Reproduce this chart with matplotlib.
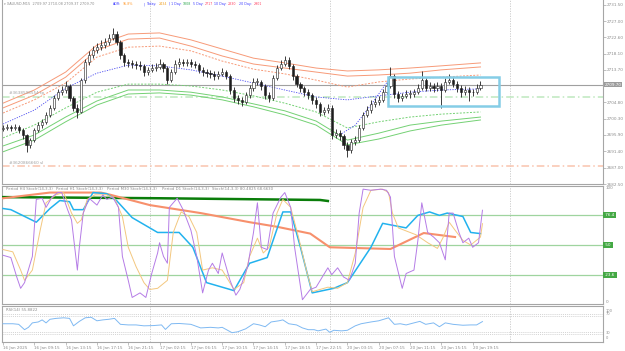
import matplotlib
matplotlib.use('Agg')
import matplotlib.pyplot as plt
from matplotlib.patches import Rectangle

# --- XAUUSD M15 chart, candles grouped to 30 min, 16 Jan 05:15 -> 20 Jan ~20:45 ---
first_open = 2697.5
close = [2697.8, 2698.1, 2697.8, 2698.1, 2697.3, 2695.9, 2693.2, 2694.5, 2697.3, 2698.6,
         2699.5, 2701.4, 2703.3, 2706.0, 2707.6, 2708.2, 2709.3, 2706.0, 2703.3, 2702.2,
         2710.9, 2715.8, 2717.8, 2719.1, 2719.9, 2720.5, 2721.3, 2722.4, 2723.5, 2721.3,
         2717.8, 2715.8, 2715.6, 2715.3, 2715.0, 2714.8, 2713.1, 2713.7, 2714.2, 2714.5,
         2715.3, 2714.2, 2710.9, 2713.1, 2715.3, 2715.8, 2715.6, 2715.8, 2715.3, 2715.0,
         2713.7, 2713.1, 2712.8, 2712.6, 2712.0, 2712.6, 2713.1, 2712.0, 2708.2, 2706.0,
         2705.5, 2704.9, 2706.8, 2708.7, 2710.4, 2710.4, 2709.3, 2706.8, 2706.0, 2711.5,
         2714.2, 2715.3, 2716.4, 2714.8, 2712.0, 2709.8, 2708.7, 2707.6, 2706.8, 2705.5,
         2704.4, 2702.2, 2702.7, 2703.3, 2695.9, 2696.4, 2695.6, 2693.2, 2691.8, 2694.0,
         2694.5, 2697.8, 2701.4, 2702.7, 2704.4, 2704.9, 2705.5, 2707.6, 2709.3, 2712.0,
         2707.1, 2706.0, 2706.5, 2707.1, 2707.1, 2707.6, 2708.7, 2710.9, 2708.7, 2709.3,
         2708.7, 2709.3, 2708.2, 2710.4, 2710.9, 2709.8, 2708.7, 2707.6, 2708.2, 2707.6,
         2707.6, 2708.7, 2709.7]
high = [2698.6, 2698.9, 2698.7, 2699.0, 2698.6, 2697.8, 2696.3, 2695.2, 2697.9, 2699.4,
        2700.4, 2702.3, 2704.2, 2706.9, 2708.5, 2709.4, 2710.6, 2709.8, 2706.6, 2704.5,
        2711.6, 2716.7, 2718.9, 2720.2, 2721.0, 2721.8, 2722.5, 2723.6, 2725.1, 2724.4,
        2721.9, 2718.4, 2716.8, 2716.5, 2716.2, 2716.0, 2715.3, 2714.6, 2715.2, 2715.6,
        2716.6, 2715.9, 2714.7, 2713.9, 2716.3, 2716.9, 2716.7, 2716.8, 2716.6, 2716.1,
        2715.6, 2714.5, 2714.0, 2713.7, 2713.4, 2713.5, 2714.1, 2713.8, 2712.6, 2708.9,
        2706.9, 2706.3, 2707.6, 2709.6, 2711.4, 2711.5, 2711.0, 2709.9, 2707.6, 2712.3,
        2715.1, 2716.4, 2717.5, 2717.1, 2715.4, 2712.7, 2710.5, 2709.4, 2708.4, 2707.5,
        2706.2, 2705.0, 2703.6, 2704.4, 2704.0, 2697.5, 2697.2, 2696.1, 2694.0, 2694.9,
        2695.6, 2698.5, 2702.2, 2703.8, 2705.4, 2706.0, 2706.6, 2708.6, 2710.5, 2714.6,
        2712.6, 2707.8, 2707.5, 2708.1, 2708.2, 2708.6, 2709.8, 2713.3, 2711.6, 2710.4,
        2710.1, 2710.3, 2710.0, 2711.6, 2712.6, 2711.8, 2710.6, 2709.5, 2709.4, 2709.0,
        2708.6, 2709.8, 2710.6]
low = [2696.9, 2697.2, 2697.0, 2697.3, 2696.5, 2694.8, 2691.3, 2692.4, 2694.0, 2696.8,
       2697.9, 2699.0, 2700.8, 2702.8, 2705.4, 2706.9, 2707.5, 2705.2, 2702.4, 2700.6,
       2701.8, 2710.2, 2715.0, 2716.9, 2718.2, 2719.0, 2719.6, 2720.5, 2721.8, 2720.6,
       2716.6, 2714.7, 2714.6, 2714.3, 2714.0, 2713.6, 2712.0, 2712.3, 2713.0, 2713.4,
       2713.9, 2713.2, 2709.9, 2710.3, 2712.6, 2714.6, 2714.7, 2714.8, 2714.4, 2714.1,
       2712.8, 2712.1, 2711.8, 2711.6, 2711.0, 2711.2, 2711.9, 2711.1, 2707.2, 2705.0,
       2704.5, 2703.9, 2704.3, 2706.1, 2708.0, 2709.5, 2708.3, 2705.8, 2704.9, 2705.4,
       2710.8, 2713.6, 2714.7, 2713.9, 2711.0, 2708.9, 2707.7, 2706.6, 2705.8, 2704.5,
       2703.4, 2701.1, 2701.4, 2702.0, 2694.9, 2695.0, 2694.6, 2692.0, 2690.0, 2691.0,
       2693.2, 2694.0, 2697.2, 2700.8, 2702.0, 2703.6, 2704.2, 2705.0, 2707.0, 2708.8,
       2706.0, 2705.0, 2705.3, 2705.9, 2706.1, 2706.4, 2707.0, 2708.1, 2707.8, 2707.9,
       2707.7, 2707.8, 2703.3, 2707.6, 2709.8, 2708.9, 2707.6, 2706.4, 2706.8, 2705.2,
       2706.6, 2707.0, 2708.2]

# envelope bands around the moving average, read every 8 bars
band_x = [0, 8, 16, 24, 32, 40, 48, 56, 64, 72, 80, 88, 96, 104, 112, 122]
upper1 = [2704.6, 2708.2, 2713.1, 2720.5, 2723.5, 2723.8, 2721.9, 2719.4, 2716.9, 2715.6,
          2714.2, 2713.4, 2713.7, 2714.2, 2714.8, 2715.6]
upper2 = [2703.3, 2706.8, 2711.7, 2719.1, 2722.1, 2722.4, 2720.2, 2717.5, 2715.3, 2714.2,
          2713.1, 2712.0, 2712.3, 2712.8, 2713.7, 2714.5]
upper3 = [2701.9, 2705.5, 2710.1, 2717.2, 2719.9, 2720.2, 2718.9, 2716.1, 2713.9, 2712.6,
          2710.9, 2709.0, 2710.4, 2711.2, 2711.7, 2712.3]
ma_mid = [2698.9, 2702.7, 2708.7, 2712.8, 2715.0, 2714.8, 2713.7, 2712.0, 2710.1, 2708.2,
          2706.3, 2705.5, 2706.6, 2707.6, 2708.2, 2708.5]
lower1 = [2695.1, 2698.6, 2703.3, 2707.6, 2709.8, 2709.8, 2709.3, 2708.2, 2706.6, 2704.6,
          2702.2, 2697.8, 2699.5, 2700.8, 2701.6, 2702.2]
lower2 = [2692.9, 2695.9, 2700.8, 2705.2, 2708.2, 2708.2, 2707.6, 2706.3, 2704.4, 2702.5,
          2699.7, 2694.5, 2696.4, 2698.6, 2699.7, 2700.8]
lower3 = [2691.3, 2694.5, 2699.5, 2704.1, 2707.1, 2707.4, 2706.8, 2705.5, 2703.6, 2701.4,
          2698.6, 2693.2, 2694.8, 2697.0, 2698.6, 2700.0]
fast_ma_x = [86, 90, 94, 98.5]
fast_ma = [2695.9, 2698.6, 2704.1, 2710.9]

bid = 2709.70
tp_level = 2706.3
sl_level = 2687.4
box_x0, box_x1 = 98.4, 126.7
box_lo, box_hi = 2703.8, 2711.7

price_ticks = [2731.50, 2727.00, 2722.60, 2718.10, 2713.70, 2709.20, 2704.80,
               2700.30, 2695.90, 2691.40, 2687.00, 2682.50]

# stochastics (M15 main/signal, H1, H4, D1)
k_x = [0, 2, 3.5, 4.5, 5.5, 7.5, 8.5, 10, 11, 12.5, 14, 15, 16.5, 17.5, 19, 19.5, 20.5, 22,
       24, 25.5, 26.5, 28, 29.5, 30.5, 32, 33, 35, 36.5, 38, 39.5, 40, 41, 42, 42.5, 44.5,
       46, 48, 49.5, 51, 52.5, 53.5, 55, 56, 58, 59.5, 60.5, 62.5, 64, 65, 66, 67.5, 69,
       71, 72, 73.5, 74.5, 76.5, 78.5, 80, 83, 84, 85.5, 87, 88.5, 90, 91, 92, 94, 96.5,
       98, 99, 100, 102, 103, 105, 106, 107, 108.5, 110, 111.5, 113, 114, 115, 116.5,
       117.5, 119, 120, 121.5, 122.5]
k_val = [41, 39, 22, 12, 17, 40, 90, 91, 83, 92, 96, 96, 81, 72, 28, 48, 78, 91, 85, 94,
         90, 92, 83, 40, 19, 4, 8, 4, 25, 43, 52, 40, 34, 83, 91, 81, 63, 40, 8, 28, 34,
         25, 43, 19, 6, 11, 31, 61, 87, 48, 46, 78, 92, 96, 83, 48, 2, 11, 13, 30, 24, 30,
         22, 19, 34, 78, 99, 98, 99, 98, 92, 40, 12, 25, 28, 54, 87, 61, 57, 52, 37, 78,
         78, 61, 52, 56, 48, 52, 80.5]
d_x = [0, 2.5, 4.5, 5.5, 7.5, 9.5, 11, 13.5, 15.5, 17.5, 19, 20, 21.5, 23.5, 26.5, 28.5,
       30.5, 32, 34, 36, 37.5, 39.5, 42, 43.5, 45.5, 47.5, 49.5, 51, 53.5, 56, 59, 61.5,
       63, 65, 66.5, 68, 70, 71.5, 73.5, 75.5, 77.5, 79, 83, 85.5, 88, 90, 92, 94, 97,
       98.5, 99.5, 101, 105.5, 108.5, 111, 112.5, 114, 115.5, 117.5, 119.5, 122, 122.5]
d_val = [46, 44, 28, 19, 28, 63, 87, 94, 96, 78, 69, 72, 90, 94, 94, 91, 75, 48, 31, 17,
         11, 12, 19, 61, 79, 75, 61, 28, 30, 28, 11, 17, 40, 56, 43, 48, 78, 90, 83, 57,
         28, 9, 13, 12, 17, 43, 83, 98, 99, 96, 78, 65, 59, 52, 47, 57, 70, 63, 54, 50,
         57, 68.7]
h1_x = [0, 2, 8.5, 12, 14.5, 17, 18, 20.5, 23, 26.5, 29, 33, 39.5, 45, 48.5, 52, 59, 63,
        67.5, 71.5, 73.5, 76, 79, 84.5, 88, 94, 97, 101.5, 103, 106, 109, 111.5, 113.5,
        117.5, 119.5, 122]
h1_val = [82, 81, 70, 82, 89, 88, 81, 81, 96, 95, 89, 74, 61, 61, 48, 17, 10, 34, 39, 79,
          79, 48, 8, 12, 17, 48, 69, 66, 65, 76, 79, 76, 78, 75, 61, 60]
h4_x = [0, 12, 25, 27.5, 37.5, 50.5, 63, 70, 78.5, 83.5, 99, 107.5, 115.5]
h4_val = [91, 96, 96, 94, 85, 78, 70, 66, 60, 48, 46.5, 60.5, 57]
d1_x = [0, 40, 81, 83]
d1_val = [92, 91, 89.5, 88.6]
stoch_levels = [76.4, 50, 23.6]

rsi_x = [0, 2.5, 4, 5.5, 6.5, 7.5, 9, 10, 11, 12, 13.5, 15.5, 17, 18, 19.5, 21, 22.5, 24,
         25.5, 27, 28.5, 30, 32, 34, 36, 38.5, 40.5, 41.5, 43, 45, 48, 50.5, 53, 55, 56,
         58.5, 60, 62, 64, 65.5, 67, 68.5, 70.5, 71.5, 73, 75, 76.5, 78, 79.5, 80.5, 82.5,
         83.5, 84.5, 86.5, 88, 90, 91.5, 94, 96, 98.5, 100, 101.5, 103, 105, 106.5, 108,
         110, 111.5, 113, 115, 117.5, 119.5, 121, 122.5]
rsi_val = [50.4, 50.4, 48.9, 35.3, 41.3, 52.6, 54.9, 60.2, 52.6, 61.7, 64.0, 65.5, 64.0,
           45.1, 56.4, 65.5, 67.0, 57.9, 60.2, 61.7, 64.0, 48.9, 47.4, 47.4, 45.1, 45.8,
           47.4, 36.0, 50.4, 51.1, 48.9, 39.8, 41.3, 39.8, 41.3, 27.7, 30.0, 37.5, 50.4,
           47.4, 42.8, 54.9, 57.9, 60.2, 50.4, 47.4, 39.8, 35.3, 35.3, 32.3, 36.8, 28.5,
           33.8, 32.3, 33.8, 45.1, 50.4, 54.9, 57.9, 65.5, 48.9, 50.4, 47.4, 52.6, 56.4,
           48.9, 52.6, 42.8, 52.6, 48.9, 46.6, 47.4, 47.4, 55.9]
rsi_levels = [76.4, 70, 30, 23.6]

time_ticks = [0, 8, 16, 24, 32, 40, 48, 56, 64, 72, 80, 88, 96, 104, 112, 120]
time_labels = ['16 Jan 2025', '16 Jan 09:15', '16 Jan 13:15', '16 Jan 17:15', '16 Jan 21:15',
               '17 Jan 02:15', '17 Jan 06:15', '17 Jan 10:15', '17 Jan 14:15', '17 Jan 18:15',
               '17 Jan 22:15', '20 Jan 03:15', '20 Jan 07:15', '20 Jan 11:15', '20 Jan 15:15',
               '20 Jan 19:15']
day_starts = [37.5, 83.5, 129.5]

FS = 3.0
GRAY = '#8c8c8c'
FRAME = '#a6a6a6'

W, H = 625, 351
fig = plt.figure(figsize=(W / 100, H / 100), dpi=100)
fig.patch.set_facecolor('white')


def panel(x0, y0, x1, y1):
    return fig.add_axes([x0 / W, 1 - y1 / H, (x1 - x0) / W, (y1 - y0) / H])


ax = panel(2, 0, 603, 184)
ax_st = panel(2, 186, 603, 304)
ax_rsi = panel(2, 306, 603, 342)

for a in (ax, ax_st, ax_rsi):
    a.set_xlim(-0.26, 153.3)
    for s in a.spines.values():
        s.set_color(FRAME)
        s.set_linewidth(0.8)
    a.tick_params(axis='x', bottom=False, labelbottom=False)
    for d in day_starts:
        a.axvline(d, color='#c8c8c8', lw=0.6, ls=(0, (1.5, 1.5)), zorder=1)
ax.spines['top'].set_visible(False)

# ---------------- main price window ----------------
ax.set_ylim(2682.5, 2732.8)
ax.yaxis.tick_right()
ax.set_yticks(price_ticks)
# the 2709.20 label sits under the bid box
ax.set_yticklabels(['' if abs(p - bid) < 1 else '%.2f' % p for p in price_ticks])
ax.tick_params(axis='y', length=2, width=0.5, color=FRAME, labelsize=FS, labelcolor=GRAY, pad=1)

for ys, st in ((upper1, '-'), (upper2, '-'), (upper3, (0, (2, 1.5)))):
    ax.plot(band_x, ys, color='#f79a78', lw=0.7, ls=st, zorder=2)
for ys, st in ((lower1, (0, (2, 1.5))), (lower2, '-'), (lower3, '-')):
    ax.plot(band_x, ys, color='#74d174', lw=0.7, ls=st, zorder=2)
ax.plot(band_x, ma_mid, color='#4b4bf0', lw=0.6, ls=(0, (1.5, 1.5)), zorder=2)
ax.plot(fast_ma_x, fast_ma, color='#4b4bf0', lw=0.6, ls=(0, (1.5, 1.5)), zorder=2)

ax.axhline(bid, color='#a0a0a0', lw=0.8, zorder=1)
ax.axhline(tp_level, color='#bfe8bf', lw=1.1, ls=(0, (5, 2, 1, 2)), zorder=1)
ax.axhline(sl_level, color='#f9c4ae', lw=1.1, ls=(0, (5, 2, 1, 2)), zorder=1)
ax.text(1.5, tp_level + 0.4, '#3638598554 tp', fontsize=FS, color='#a0a0a0', va='bottom')
ax.text(1.5, sl_level + 0.4, '#3620866660 sl', fontsize=FS, color='#a0a0a0', va='bottom')

opens = [first_open] + close[:-1]
for i in range(len(close)):
    o, c = opens[i], close[i]
    ax.vlines(i, low[i], high[i], color='#1e1e1e', lw=0.6, zorder=3)
    body = max(abs(c - o), 0.15)
    if c >= o:
        ax.bar(i, body, bottom=min(o, c), width=0.55, color='white',
               edgecolor='#1e1e1e', lw=0.4, zorder=4)
    else:
        ax.bar(i, body, bottom=min(o, c), width=0.55, color='#1e1e1e',
               edgecolor='#1e1e1e', lw=0.4, zorder=4)

ax.add_patch(Rectangle((box_x0, box_lo), box_x1 - box_x0, box_hi - box_lo, fill=False,
                       edgecolor='#85cde6', lw=1.8, zorder=5))

ax.text(1.0025, bid, '%.2f' % bid, transform=ax.get_yaxis_transform(), fontsize=FS,
        color='white', va='center', ha='left', zorder=10, clip_on=False,
        bbox=dict(facecolor='#9c9c9c', edgecolor='none', pad=0.7))

# header line
hy = 2731.7
ax.text(0.3, hy, '\u25be XAUUSD,M15  2709.97 2710.08 2709.37 2709.70', fontsize=2.5,
        color=GRAY, va='center')
header = [(28.2, 'ADR:', '#3a3aff'), (30.5, '95.8%', '#ff9a2e'), (35.8, '|', '#3a3aff'),
          (36.8, 'Today:', '#3a3aff'), (39.8, '2434', '#f0a020'), (42.4, '| 1 Day:', '#3a3aff'),
          (46.0, '1808', '#2fa84f'), (48.5, '5 Day:', '#3a3aff'), (51.5, '2717', '#ff4060'),
          (53.9, '10 Day:', '#3a3aff'), (57.5, '2830', '#ff4060'), (60.4, '20 Day:', '#3a3aff'),
          (64.1, '2901', '#ff4060')]
for xx, tx, col in header:
    ax.text(xx, hy, tx, fontsize=2.3, color=col, va='center')

# ---------------- stochastic window ----------------
ax_st.set_ylim(-1.75, 101.75)
ax_st.set_yticks([])
for lv in stoch_levels:
    ax_st.axhline(lv, color='#9fd49f', lw=0.9, zorder=1)
    ax_st.text(1.002, lv, ' %g ' % lv, transform=ax_st.get_yaxis_transform(), fontsize=FS,
               color='white', va='center', ha='left', clip_on=False,
               bbox=dict(facecolor='#44a844', edgecolor='none', pad=0.5))
ax_st.text(1.004, 100, '100', transform=ax_st.get_yaxis_transform(), fontsize=FS,
           color=GRAY, va='center', clip_on=False)
ax_st.text(1.004, 0, '0', transform=ax_st.get_yaxis_transform(), fontsize=FS,
           color=GRAY, va='center', clip_on=False)

ax_st.plot(d1_x, d1_val, color='#0a7d0a', lw=1.8, zorder=3)
ax_st.plot(h4_x, h4_val, color='#f7906c', lw=1.5, zorder=3)
ax_st.plot(h1_x, h1_val, color='#22b2ee', lw=1.1, zorder=4)
ax_st.plot(d_x, d_val, color='#f3c77f', lw=0.7, zorder=4)
ax_st.plot(k_x, k_val, color='#b57ce6', lw=0.7, zorder=5)

st_head = [(0.7, 'Period H4 Stoch(14,3,3)'), (13.5, 'Period H1 Stoch(14,3,3)'),
           (26.5, 'Period M30 Stoch(14,3,3)'), (40.5, 'Period D1 Stoch(14,3,3)'),
           (53.5, 'Stoch(14,3,3) 80.4825 68.6630')]
for xx, tx in st_head:
    ax_st.text(xx, 99.5, tx, fontsize=2.8, color=GRAY, va='center')

# ---------------- RSI window ----------------
ax_rsi.set_ylim(4, 95.5)
ax_rsi.set_yticks([])
for lv in rsi_levels:
    ax_rsi.axhline(lv, color='#c4c4c4', lw=0.5, ls=(0, (1.5, 1.5)), zorder=1)
for lv, tx in ((84, '100'), (76, '70'), (27, '30'), (14, '0')):
    ax_rsi.text(1.004, lv, tx, transform=ax_rsi.get_yaxis_transform(), fontsize=2.6,
                color=GRAY, va='center', clip_on=False)
ax_rsi.plot(rsi_x, rsi_val, color='#7fb9f2', lw=0.7, zorder=3)
ax_rsi.text(0.7, 85, 'RSI(14) 55.8822', fontsize=2.8, color=GRAY, va='center')

ax_rsi.tick_params(axis='x', bottom=True, labelbottom=True, length=2, width=0.5,
                   color=FRAME, labelsize=FS, labelcolor=GRAY, pad=1)
ax_rsi.set_xticks(time_ticks)
ax_rsi.set_xticklabels(time_labels, ha='left')

fig.savefig('out.png', dpi=100)
